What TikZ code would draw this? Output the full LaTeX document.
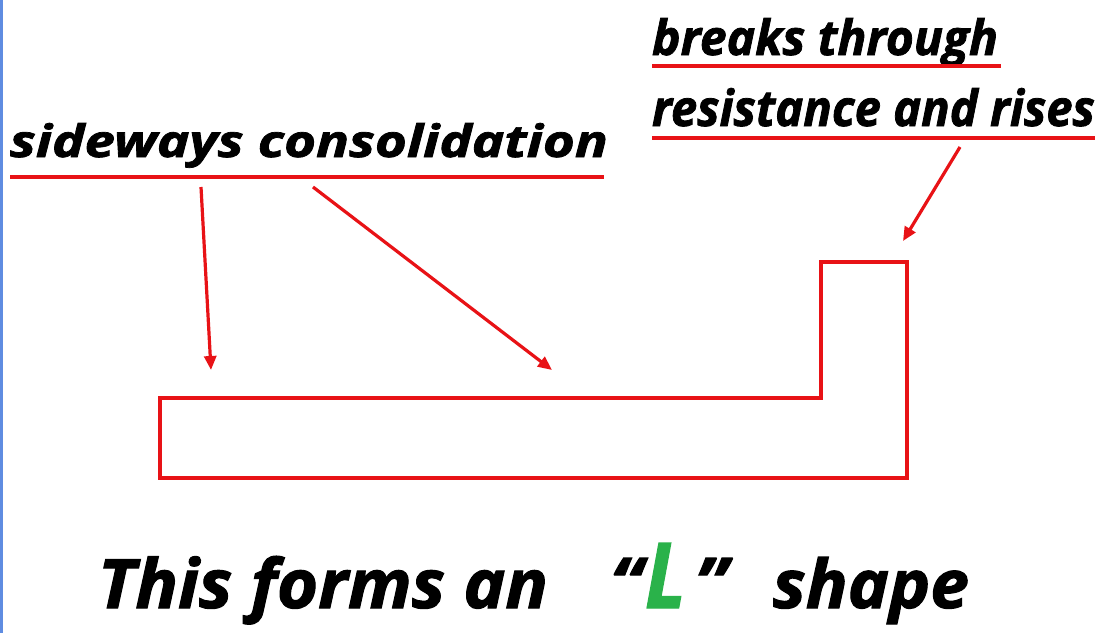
\documentclass[tikz,border=0pt]{standalone}
\usepackage{fontspec}
\setmainfont{Open Sans}[BoldItalicFeatures={FakeBold=1.6}]
\usetikzlibrary{arrows.meta}
\definecolor{lred}{RGB}{232,18,22}
\definecolor{lgreen}{RGB}{42,178,74}
\definecolor{lblue}{RGB}{95,140,225}
\newcommand\fitbox[3]{\resizebox{#1pt}{#2pt}{\fontsize{40}{48}\selectfont\bfseries\itshape #3}}
\tikzset{
  lbl/.style={anchor=base west, inner sep=0pt, outer sep=0pt, text=black},
  uline/.style={draw=lred, line width=3.4pt},
  pointer/.style={draw=lred, line width=3.2pt, -{Triangle[length=14pt,width=12pt]}},
  lshape/.style={draw=lred, line width=3.8pt, line join=miter},
  edgebar/.style={draw=lblue, line width=2.2pt},
}
\begin{document}
\begin{tikzpicture}[x=1pt,y=-1pt]
\fill[white] (0,0) rectangle (1103,633);
\useasboundingbox (0,0) rectangle (1103,633);
\draw[edgebar] (1.5,0) -- (1.5,633);

% labels
\node[lbl] (side) at (10,157) {\fitbox{598}{34}{sideways consolidation}};
\node[lbl] (brk) at (652,55) {\fitbox{346}{37}{breaks through}};
\node[lbl] (res) at (652,126) {\fitbox{443}{38}{resistance and rises}};

% underlines
\coordinate (u1a) at (10,177); \coordinate (u1b) at (604,177);
\coordinate (u2a) at (652,66); \coordinate (u2b) at (1001,66);
\coordinate (u3a) at (652,138); \coordinate (u3b) at (1095,138);
\draw[uline] (u1a) -- (u1b);
\draw[uline] (u2a) -- (u2b);
\draw[uline] (u3a) -- (u3b);

% L shape
\draw[lshape] (160,398) -- (821,398) -- (821,262) -- (907,262) -- (907,478) -- (160,478) -- cycle;

% arrows
\coordinate (a1s) at (201,187); \coordinate (a1e) at (211,370);
\coordinate (a2s) at (313,187); \coordinate (a2e) at (552,370);
\coordinate (a3s) at (960,147); \coordinate (a3e) at (903,241);
\draw[pointer] (a1s) -- (a1e);
\draw[pointer] (a2s) -- (a2e);
\draw[pointer] (a3s) -- (a3e);

% bottom caption
\node[lbl] (cap1) at (98,608) {\fitbox{450}{52}{This forms an}};
\node[lbl] (oq) at (610,608) {\fitbox{32}{50}{“}};
\node[lbl, text=lgreen] (ell) at (645,608) {\resizebox{41pt}{65pt}{\fontsize{40}{48}\selectfont\bfseries\itshape\color{lgreen}L}};
\node[lbl] (cq) at (695,608) {\fitbox{32}{50}{”}};
\node[lbl] (cap2) at (773,608) {\fitbox{196}{51}{shape}};
\end{tikzpicture}
\end{document}
